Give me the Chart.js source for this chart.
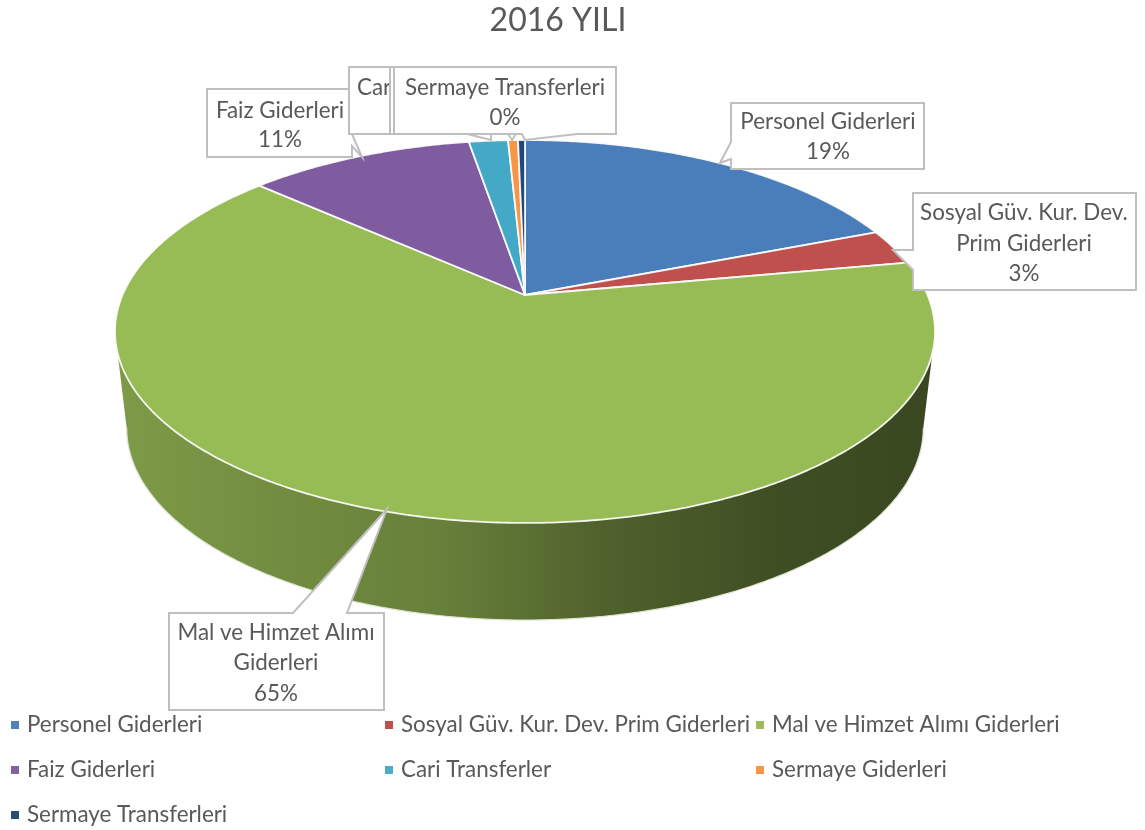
<!DOCTYPE html>
<html><head><meta charset="utf-8">
<style>html,body{margin:0;padding:0;background:#fff}#w{width:1145px;height:830px}</style>
<script src="https://cdn.jsdelivr.net/npm/chart.js@4"></script></head>
<body><div id="w"><canvas id="c" width="1145" height="830"></canvas></div>
<script>
const categories = ['Personel Giderleri','Sosyal Güv. Kur. Dev. Prim Giderleri','Mal ve Himzet Alımı Giderleri','Faiz Giderleri','Cari Transferler','Sermaye Giderleri','Sermaye Transferleri'];
const seriesValues = [19.1, 3, 64.55, 10.7, 1.85, 0.47, 0.33];
const sliceColors = ['#4a7ebb','#c0504d','#97bb55','#7f5b9f','#43a9c6','#f79646','#1f497d'];
const legendColors = ['#4f81bd','#c0504d','#9bbb59','#8064a2','#4bacc6','#f79646','#2c4d75'];
const chartTitle = '2016 YILI';

const FONT = 'Lato, sans-serif';
const TEXT = '#595959', BORDER = '#bfbfbf';
// Perspective projection of the pie's unit disc
const TOP = {cx:525, cy:295, R:402.5, H:184.5, k:0.1906};
const BOT = {cx:525, cy:391.5, R:391, H:185, k:0.1906};
const SILHOUETTE = 0.1918; // angle where the rim reaches its widest point
function proj(p, angle){
  const u = Math.cos(angle), v = -Math.sin(angle), w = 1 + p.k*v;
  return [p.cx + p.R*u/w, p.cy - p.H*v/w];
}
function rimPath(ctx, p, a0, a1, first){
  const n = Math.max(2, Math.ceil(Math.abs(a1-a0)/0.01));
  for(let i=0;i<=n;i++){
    const q = proj(p, a0+(a1-a0)*i/n);
    if(i===0 && first) ctx.moveTo(q[0],q[1]); else ctx.lineTo(q[0],q[1]);
  }
}
function rgb(hex){return [1,3,5].map(i=>parseInt(hex.substr(i,2),16));}
function shade(hex,f){return 'rgb('+rgb(hex).map(c=>Math.round(c*f)).join(',')+')';}

// Arcs keep the angles computed by the pie controller and are drawn in perspective
const Arc = Chart.registry.getElement('arc');
Arc.prototype.draw = function(ctx){
  const o = this.options;
  ctx.save();
  ctx.beginPath();
  ctx.moveTo(TOP.cx, TOP.cy);
  rimPath(ctx, TOP, this.startAngle, this.endAngle, false);
  ctx.closePath();
  ctx.fillStyle = o.backgroundColor;
  ctx.fill();
  ctx.lineWidth = 1.8;
  ctx.lineJoin = 'round';
  ctx.strokeStyle = 'rgba(255,255,255,0.9)';
  ctx.stroke();
  ctx.restore();
};

const wallPlugin = {
  id:'wall',
  beforeDatasetsDraw(chart){
    const ctx = chart.ctx, meta = chart.getDatasetMeta(0);
    meta.data.forEach((el,i)=>{
      const a0 = Math.max(el.startAngle, SILHOUETTE), a1 = Math.min(el.endAngle, Math.PI-SILHOUETTE);
      if(a1<=a0) return;
      const col = sliceColors[i];
      const g = ctx.createLinearGradient(115,0,935,0);
      g.addColorStop(0, shade(col,0.83));
      g.addColorStop(0.4, shade(col,0.68));
      g.addColorStop(0.6, shade(col,0.52));
      g.addColorStop(0.8, shade(col,0.42));
      g.addColorStop(1, shade(col,0.38));
      ctx.save();
      ctx.fillStyle = g;
      ctx.beginPath();
      rimPath(ctx,TOP,a0,a1,true);
      rimPath(ctx,BOT,a1,a0,false);
      ctx.closePath();
      ctx.fill();
      ctx.strokeStyle='#dfe3d2'; ctx.lineWidth=1.2;
      ctx.beginPath(); rimPath(ctx,BOT,a0,a1,true); ctx.stroke();
      ctx.restore();
    });
  }
};

// Callouts: outline polygons and the text lines for each category
const callouts = [
 {i:3, pts:[[207,89],[352,89],[352,134],[362,157],[352,146],[352,157],[207,157]], cx:280, ys:[111,140], lines:['Faiz Giderleri']},
 {i:4, pts:[[349,67],[512,67],[512,134],[491,134],[491,140],[467,134],[349,134]], cx:432, ys:[88,118], lines:['Cari Transferler']},
 {i:5, pts:[[390,67],[580,67],[580,134],[516,134],[512,140],[508,134],[390,134]], cx:485, ys:[88,118], lines:['Sermaye Giderleri']},
 {i:6, pts:[[394,67],[616,67],[616,134],[577,134],[525,140],[522,134],[394,134]], cx:505, ys:[88,118], lines:['Sermaye Transferleri']},
 {i:0, pts:[[731,103],[924,103],[924,169],[731,169],[731,159],[720,163],[731,142]], cx:828, ys:[122,152], lines:['Personel Giderleri']},
 {i:1, pts:[[913,193],[1136,193],[1136,290],[913,290],[913,270],[893,250],[913,250]], cx:1024, ys:[213,244,274], lines:['Sosyal Güv. Kur. Dev.','Prim Giderleri']},
 {i:2, pts:[[169,613],[293,613],[387,509],[347,613],[384,613],[384,710],[169,710]], cx:276, ys:[633,663,694], lines:['Mal ve Himzet Alımı','Giderleri']}
];
const legendRows = [[0,1,2],[3,4,5],[6]];
const legendColX = [11,385,756];
const legendRowY = [725,770,815];

const labelPlugin = {
  id:'labels',
  afterDatasetsDraw(chart){
    const ctx = chart.ctx;
    const total = seriesValues.reduce((a,b)=>a+b,0);
    ctx.save();
    ctx.font = '22.4px '+FONT;
    ctx.textBaseline = 'middle';
    callouts.forEach(c=>{
      ctx.beginPath();
      c.pts.forEach((p,j)=> j? ctx.lineTo(p[0],p[1]) : ctx.moveTo(p[0],p[1]));
      ctx.closePath();
      ctx.fillStyle='#fff'; ctx.fill();
      ctx.strokeStyle=BORDER; ctx.lineWidth=2; ctx.lineJoin='miter'; ctx.stroke();
      ctx.fillStyle=TEXT; ctx.textAlign='center';
      const rows = c.lines.concat([Math.round(seriesValues[c.i]/total*100)+'%']);
      rows.forEach((t,j)=>ctx.fillText(t,c.cx,c.ys[j]));
    });
    // legend
    ctx.textAlign='left';
    legendRows.forEach((row,r)=>row.forEach((idx,col)=>{
      const x=legendColX[col], y=legendRowY[r];
      ctx.fillStyle=legendColors[idx];
      ctx.fillRect(x,y-4,8,8);
      ctx.fillStyle=TEXT;
      ctx.fillText(categories[idx],x+16,y);
    }));
    ctx.restore();
  }
};

new Chart(document.getElementById('c'),{
  type:'pie',
  data:{labels:categories,datasets:[{data:seriesValues,backgroundColor:sliceColors,borderWidth:0}]},
  options:{
    responsive:false,animation:false,
    layout:{padding:{right:29}},
    plugins:{
      legend:{display:false},tooltip:{enabled:false},
      title:{display:true,text:chartTitle,color:TEXT,font:{family:FONT,size:32,weight:'normal'},padding:{top:1,bottom:10}}
    }
  },
  plugins:[wallPlugin,labelPlugin]
});
</script></body></html>
